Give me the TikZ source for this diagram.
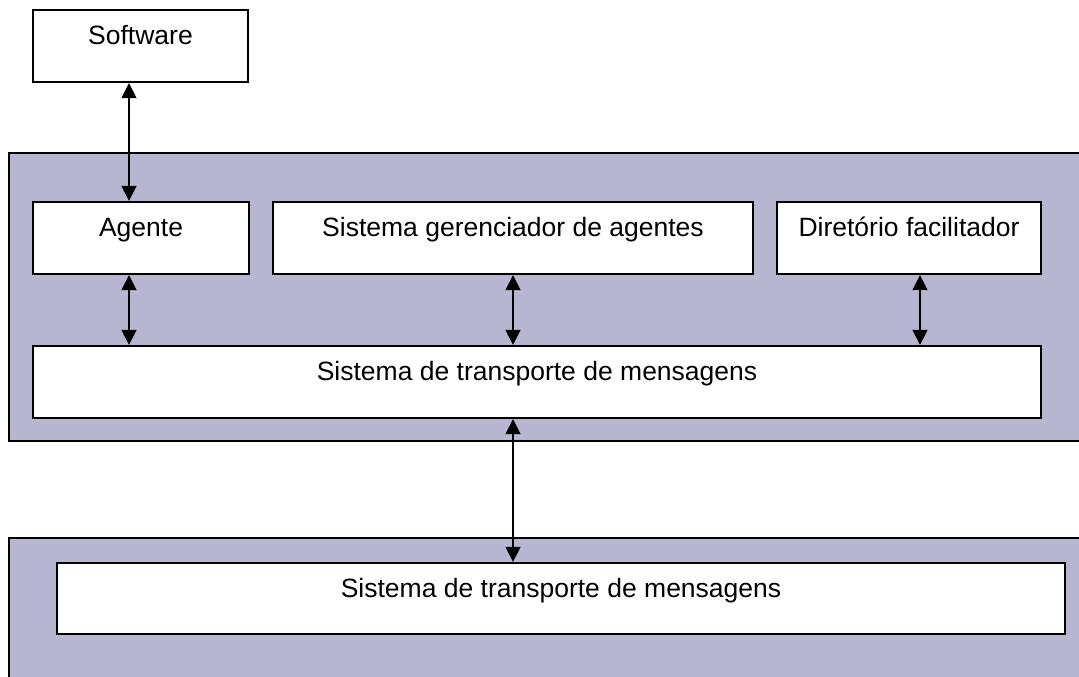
\documentclass[tikz,border=0pt]{standalone}
\usepackage{fontspec}
\setmainfont{Liberation Sans}
\usetikzlibrary{arrows.meta}
\definecolor{panelfill}{RGB}{182,182,208}
\tikzset{
  panel/.style={draw=black, line width=1.3pt, fill=panelfill},
  box/.style={draw=black, line width=1.3pt, fill=white, inner sep=0pt, rectangle},
  lbl/.style={anchor=base, inner sep=0pt, font=\fontsize{26.5}{30}\selectfont},
  link/.style={line width=1.4pt, {Triangle[width=15pt,length=15pt]}-{Triangle[width=15pt,length=15pt]}, shorten <=0.5pt, shorten >=0.5pt}
}
\begin{document}
\begin{tikzpicture}[x=1pt,y=-1pt]
\useasboundingbox (0,0) rectangle (1079,677);
\clip (0,0) rectangle (1079,677);
% panels
\draw[panel] (9,153) rectangle (1095,441);
\draw[panel] (9,538) rectangle (1095,700);
% boxes
\node[box, minimum width=215pt, minimum height=72pt] (sw) at (140.5,46) {};
\node[box, minimum width=216pt, minimum height=72pt] (ag) at (141,238) {};
\node[box, minimum width=480pt, minimum height=72pt] (sg) at (513,238) {};
\node[box, minimum width=264pt, minimum height=72pt] (df) at (909,238) {};
\node[box, minimum width=1008pt, minimum height=72pt] (tr) at (537,382) {};
\node[box, minimum width=1008pt, minimum height=71pt] (tb) at (561,598.5) {};
% labels
\node[lbl] (swl) at ([yshift=-35pt]sw.north) {Software};
\node[lbl] (agl) at ([yshift=-35pt]ag.north) {Agente};
\node[lbl] (sgl) at ([yshift=-35pt]sg.north) {Sistema gerenciador de agentes};
\node[lbl] (dfl) at ([yshift=-35pt]df.north) {Diretório facilitador};
\node[lbl] (trl) at ([yshift=-35pt]tr.north) {Sistema de transporte de mensagens};
\node[lbl] (tbl) at ([yshift=-35pt]tb.north) {Sistema de transporte de mensagens};
% connectors
\draw[link] (sw.south -| 129,0) -- (ag.north -| 129,0);
\draw[link] (ag.south -| 129,0) -- (tr.north -| 129,0);
\draw[link] (sg.south -| 513,0) -- (tr.north -| 513,0);
\draw[link] (df.south -| 920,0) -- (tr.north -| 920,0);
\draw[link] (tr.south -| 513,0) -- (tb.north -| 513,0);
\end{tikzpicture}
\end{document}
